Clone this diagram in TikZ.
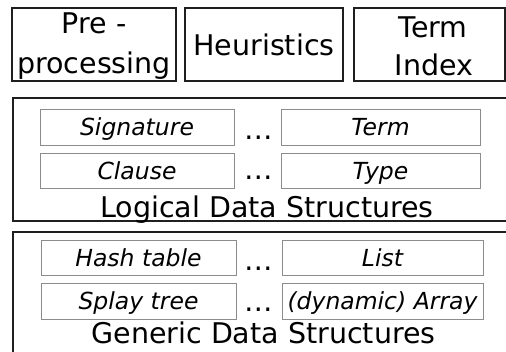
\documentclass[tikz,border=0pt]{standalone}
\usepackage{fontspec}
\setmainfont{DejaVu Sans}
\begin{document}
\begin{tikzpicture}[x=1pt,y=-1pt,
  outerbox/.style={draw=black!88,line width=2pt,inner sep=0pt},
  inbox/.style={draw=black!45,line width=1pt,inner sep=0pt,
    font=\fontsize{23.5}{28}\selectfont\itshape,text height=17.1pt,text depth=0pt},
  bigtxt/.style={inner sep=0pt,anchor=base,font=\fontsize{28.5}{34}\selectfont},
  dotstxt/.style={inner sep=0pt,anchor=base,font=\fontsize{28.5}{34}\selectfont}]
\useasboundingbox (0,0) rectangle (506,351);
\fill[white] (0,0) rectangle (506,351);
% top boxes
\node[outerbox,minimum width=164pt,minimum height=73pt] (pre) at (94,44.5) {};
\node[outerbox,minimum width=158pt,minimum height=73pt] (heur) at (264,44.5) {};
\node[outerbox,minimum width=151pt,minimum height=73pt] (tidx) at (429.5,44.5) {};
\node[bigtxt] (pre1) at (94,33) {Pre -};
\node[bigtxt] (pre2) at (94,73) {processing};
\node[bigtxt] (heurt) at (264,55) {Heuristics};
\node[bigtxt] (tidx1) at (433,37) {Term};
\node[bigtxt] (tidx2) at (434,75) {Index};
% logical
\node[outerbox,minimum width=517pt,minimum height=123pt] (logical) at (271.5,159.5) {};
\node[inbox,minimum width=194pt,minimum height=36pt] (sig) at (137,127) {Signature};
\node[inbox,minimum width=199pt,minimum height=36pt] (term) at (380.5,127) {Term};
\node[inbox,minimum width=194pt,minimum height=35pt] (clause) at (137,170.5) {Clause};
\node[inbox,minimum width=199pt,minimum height=35pt] (type) at (380.5,170.5) {Type};
\node[dotstxt] (d1) at (258.5,139) {…};
\node[dotstxt] (d2) at (258.5,179) {…};
\node[bigtxt] (logt) at (267,217.5) {Logical Data Structures};
% generic
\node[outerbox,minimum width=517pt,minimum height=138pt] (generic) at (271.5,301) {};
\node[inbox,minimum width=195pt,minimum height=35pt] (hash) at (138.5,257.5) {Hash table};
\node[inbox,minimum width=201pt,minimum height=35pt] (list) at (382.5,257.5) {List};
\node[inbox,minimum width=195pt,minimum height=36pt] (splay) at (138.5,301) {Splay tree};
\node[inbox,minimum width=201pt,minimum height=36pt] (array) at (382.5,301) {(dynamic) Array};
\node[dotstxt] (d3) at (259,270) {…};
\node[dotstxt] (d4) at (259,311.5) {…};
\node[bigtxt] (gent) at (263.5,343) {Generic Data Structures};
\end{tikzpicture}
\end{document}
